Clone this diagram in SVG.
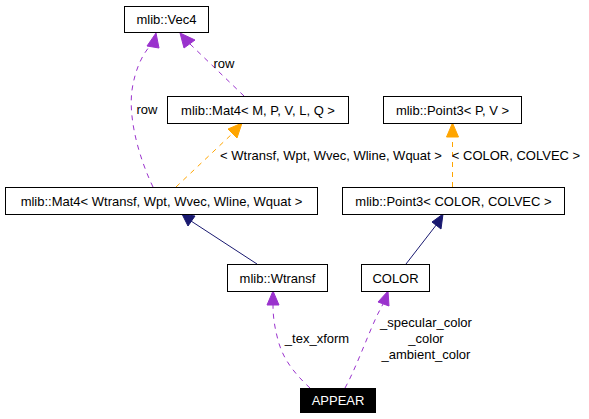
<svg xmlns="http://www.w3.org/2000/svg" width="589" height="419" viewBox="0 0 589 419">
<style>
text{font-family:"Liberation Sans",Arial,sans-serif;font-size:13px;fill:#000}
.n rect{fill:#fff;stroke:#000;stroke-width:1}
.n text{text-anchor:middle}
.e{fill:none;stroke-width:1}
.p{stroke:#9a32cd;stroke-dasharray:5,5}
.o{stroke:#ffa500;stroke-dasharray:5,5}
.b{stroke:#191970}
.ap{fill:#9a32cd;stroke:#9a32cd}
.ao{fill:#ffa500;stroke:#ffa500}
.ab{fill:#191970;stroke:#191970}
.l{text-anchor:middle}
</style>
<rect width="589" height="419" fill="#fff"/>
<g id="connectors">
  <path class="e p" d="M153,187 C140,160 128,120 132,90 C135,70 142,55 150,46"/>
  <polygon class="ap" points="156,33 147,46 159,48"/>
  <path class="e p" d="M244,96 L190,44"/>
  <polygon class="ap" points="180,33 184,48 195,40"/>
  <path class="e o" d="M176,187 L233,133"/>
  <polygon class="ao" points="242,123 228,129 237,138"/>
  <path class="e o" d="M452.5,187 L452.5,137"/>
  <polygon class="ao" points="452.5,123 446.5,137 458.5,137"/>
  <path class="e b" d="M257,264 L191,221"/>
  <polygon class="ab" points="182,214 188,226 195,216"/>
  <path class="e b" d="M406,264 L437,224"/>
  <polygon class="ab" points="443,214 432,222 441,229"/>
  <path class="e p" d="M310,388 C296,375 283,360 278,340 C274,325 273,315 273,305"/>
  <polygon class="ap" points="273,291 267,305 279,305"/>
  <path class="e p" d="M345,388 C355,370 366,340 375,320 C378,313 380,310 383,304"/>
  <polygon class="ap" points="388,291 378,302 389,306"/>
  <text x="147" y="114" class="l">row</text>
  <text x="224" y="68" class="l">row</text>
  <text x="331" y="160" class="l">&lt; Wtransf, Wpt, Wvec, Wline, Wquat &gt;</text>
  <text x="516" y="160" class="l">&lt; COLOR, COLVEC &gt;</text>
  <text x="317" y="343" class="l">_tex_xform</text>
  <text x="426" y="327" class="l">_specular_color</text>
  <text x="426" y="343" class="l">_color</text>
  <text x="426" y="359" class="l">_ambient_color</text>
</g>
<g id="vec4" class="n"><rect x="124.5" y="6.5" width="84" height="26"/><text x="166.5" y="24">mlib::Vec4</text></g>
<g id="mat4mpvlq" class="n"><rect x="167.5" y="96.5" width="181" height="27"/><text x="258" y="114.5">mlib::Mat4&lt; M, P, V, L, Q &gt;</text></g>
<g id="point3pv" class="n"><rect x="383.5" y="96.5" width="138" height="27"/><text x="452.5" y="114.5">mlib::Point3&lt; P, V &gt;</text></g>
<g id="mat4wtransf" class="n"><rect x="5.5" y="187.5" width="312" height="27"/><text x="161.5" y="205.5">mlib::Mat4&lt; Wtransf, Wpt, Wvec, Wline, Wquat &gt;</text></g>
<g id="point3color" class="n"><rect x="342.5" y="187.5" width="222" height="27"/><text x="453.5" y="205.5">mlib::Point3&lt; COLOR, COLVEC &gt;</text></g>
<g id="wtransf" class="n"><rect x="227.5" y="264.5" width="100" height="27"/><text x="277.5" y="282.5">mlib::Wtransf</text></g>
<g id="color" class="n"><rect x="361.5" y="264.5" width="68" height="27"/><text x="395.5" y="282.5">COLOR</text></g>
<g id="appear"><rect x="300" y="388" width="76" height="25" fill="#000"/><text x="338" y="405" text-anchor="middle" style="fill:#fff">APPEAR</text></g>
</svg>
